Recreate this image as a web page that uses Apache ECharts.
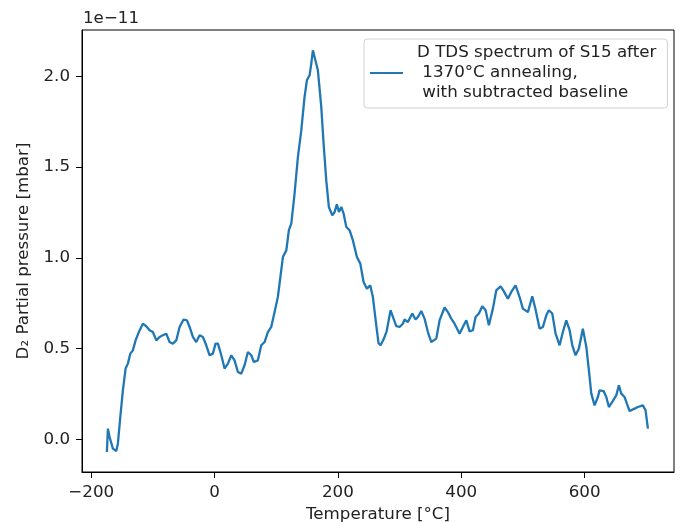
<!DOCTYPE html>
<html>
<head>
<meta charset="utf-8">
<script src="https://cdn.jsdelivr.net/npm/echarts@6/dist/echarts.min.js"></script>
<style>
html,body{margin:0;padding:0;background:#fff;}
#chart{width:685px;height:522px;}
</style>
</head>
<body>
<div id="chart"></div>
<script>
// Temperature [°C]
const temperature = [
-174.6,-173.0,-170.3,-167.5,-164.9,-159.4,-156.8,-152.9,-148.7,-144.3,
-140.6,-136.7,-132.5,-128.1,-122.8,-116.3,-110.8,-105.4,-100.1,-94.5,
-89.2,-83.8,-78.3,-73.0,-67.6,-62.1,-56.8,-50.3,-44.9,-40.5,
-35.2,-29.7,-24.3,-19.0,-13.5,-8.1,-2.8,1.6,5.4,10.9,
16.2,21.6,27.1,32.4,37.8,43.3,48.6,54.0,59.5,63.7,
70.2,75.7,81.1,86.4,91.9,97.3,102.6,110.8,116.3,120.5,
124.4,129.7,135.1,140.6,145.9,149.7,154.1,156.8,159.4,162.2,
167.5,173.0,176.8,181.1,185.3,190.9,194.6,198.3,201.6,205.5,
209.2,213.6,218.9,224.3,230.8,236.3,241.6,247.0,252.5,256.7,
262.2,265.9,269.2,274.1,279.0,285.4,294.6,300.0,305.3,308.1,
313.5,320.6,325.9,329.7,335.2,340.5,345.9,351.4,359.5,364.9,
373.0,378.3,383.8,389.2,397.3,402.6,408.2,413.5,418.9,423.2,
428.6,434.1,439.5,444.8,451.3,456.8,463.8,467.5,475.6,481.1,
488.1,494.6,499.9,508.1,515.2,520.5,527.0,532.4,537.9,542.1,
547.6,553.0,559.5,564.8,570.3,575.7,580.1,585.4,590.8,597.2,
602.8,607.0,610.9,616.2,621.6,624.3,630.8,635.2,639.4,644.9,
651.4,655.6,659.5,664.9,668.6,673.0,681.1,686.5,694.5,698.9,
702.7
];
// D2 partial pressure [1e-11 mbar]
const pressure = [
-0.070,0.059,0.013,0.017,-0.051,-0.064,-0.024,0.123,0.270,0.390,
0.417,0.472,0.490,0.545,0.591,0.637,0.623,0.601,0.591,0.545,
0.564,0.573,0.582,0.536,0.527,0.545,0.619,0.660,0.656,0.619,
0.564,0.536,0.573,0.564,0.518,0.463,0.472,0.527,0.527,0.463,
0.390,0.417,0.463,0.435,0.371,0.362,0.408,0.481,0.463,0.426,
0.435,0.518,0.536,0.591,0.619,0.701,0.784,1.004,1.041,1.152,
1.188,1.354,1.555,1.702,1.886,1.978,2.006,2.070,2.143,2.134,
2.033,1.831,1.629,1.427,1.280,1.234,1.252,1.295,1.252,1.280,
1.244,1.170,1.152,1.096,1.004,0.968,0.867,0.830,0.848,0.784,
0.628,0.529,0.518,0.551,0.595,0.711,0.623,0.619,0.637,0.660,
0.646,0.693,0.660,0.674,0.707,0.665,0.591,0.536,0.555,0.656,
0.726,0.701,0.665,0.637,0.582,0.619,0.656,0.595,0.601,0.674,
0.693,0.733,0.711,0.628,0.720,0.821,0.843,0.825,0.775,0.812,
0.848,0.784,0.720,0.701,0.788,0.715,0.610,0.619,0.683,0.711,
0.693,0.582,0.518,0.591,0.656,0.601,0.518,0.463,0.500,0.610,
0.509,0.380,0.252,0.187,0.233,0.270,0.266,0.233,0.178,0.206,
0.242,0.298,0.252,0.233,0.197,0.156,0.169,0.178,0.187,0.160,
0.059
];
const xTicks = [-200, 0, 200, 400, 600];
const yTicks = [0, 0.5, 1.0, 1.5, 2.0];
const seriesName = 'D TDS spectrum of S15 after\n 1370°C annealing,\n with subtracted baseline';
const xLabel = 'Temperature [°C]';
const yLabel = 'D₂ Partial pressure [mbar]';
const offsetText = '1e\u221211';

const FONT = 'DejaVu Sans';
const FS = 16.7;
const data = temperature.map((t, i) => [t, pressure[i]]);

const chart = echarts.init(document.getElementById('chart'), null, {renderer: 'canvas'});
chart.setOption({
  animation: false,
  backgroundColor: '#fff',
  textStyle: {fontFamily: FONT},
  grid: {left: 82, right: 11, top: 30, bottom: 50, show: true, borderColor: '#000', borderWidth: 1, backgroundColor: 'transparent', containLabel: false, outerBoundsMode: 'none'},
  graphic: [{
    type: 'text', left: 83, top: 10,
    style: {text: offsetText, font: FS + 'px "' + FONT + '"', fill: '#222'}
  }],
  legend: {
    left: 364, top: 39, orient: 'vertical',
    padding: [4, 11, 5, 6],
    borderColor: '#d0d0d0', borderWidth: 1, borderRadius: 3,
    backgroundColor: 'rgba(255,255,255,0.8)',
    itemWidth: 33, itemHeight: 2, icon: 'rect',
    textStyle: {fontFamily: FONT, fontSize: FS, lineHeight: 20, color: '#222', padding: [0, 0, 0, 9]},
    data: [seriesName]
  },
  xAxis: {
    type: 'value', min: -215, max: 745,
    name: xLabel, nameLocation: 'middle', nameGap: 33,
    nameTextStyle: {fontFamily: FONT, fontSize: FS, color: '#222'},
    axisLine: {show: true, onZero: false, lineStyle: {color: '#000', width: 1}},
    axisTick: {show: true, inside: false, length: 6, lineStyle: {color: '#000', width: 1}, customValues: xTicks},
    axisLabel: {show: true, margin: 12, fontFamily: FONT, fontSize: FS, color: '#222', customValues: xTicks,
      formatter: v => (v < 0 ? '\u2212' + Math.abs(v) : String(v))},
    splitLine: {show: false}
  },
  yAxis: {
    type: 'value', min: -0.18, max: 2.255,
    name: yLabel, nameLocation: 'middle', nameGap: 39, nameRotate: 90,
    nameTextStyle: {fontFamily: FONT, fontSize: FS, color: '#222'},
    axisLine: {show: true, onZero: false, lineStyle: {color: '#000', width: 1}},
    axisTick: {show: true, inside: false, length: 6, lineStyle: {color: '#000', width: 1}, customValues: yTicks},
    axisLabel: {show: true, margin: 12, fontFamily: FONT, fontSize: FS, color: '#222', customValues: yTicks,
      formatter: v => Number(v).toFixed(1)},
    splitLine: {show: false}
  },
  series: [{
    name: seriesName, type: 'line', data: data,
    showSymbol: false, symbol: 'none',
    lineStyle: {color: '#1f77b4', width: 2.3},
    itemStyle: {color: '#1f77b4'}
  }]
});
</script>
</body>
</html>
